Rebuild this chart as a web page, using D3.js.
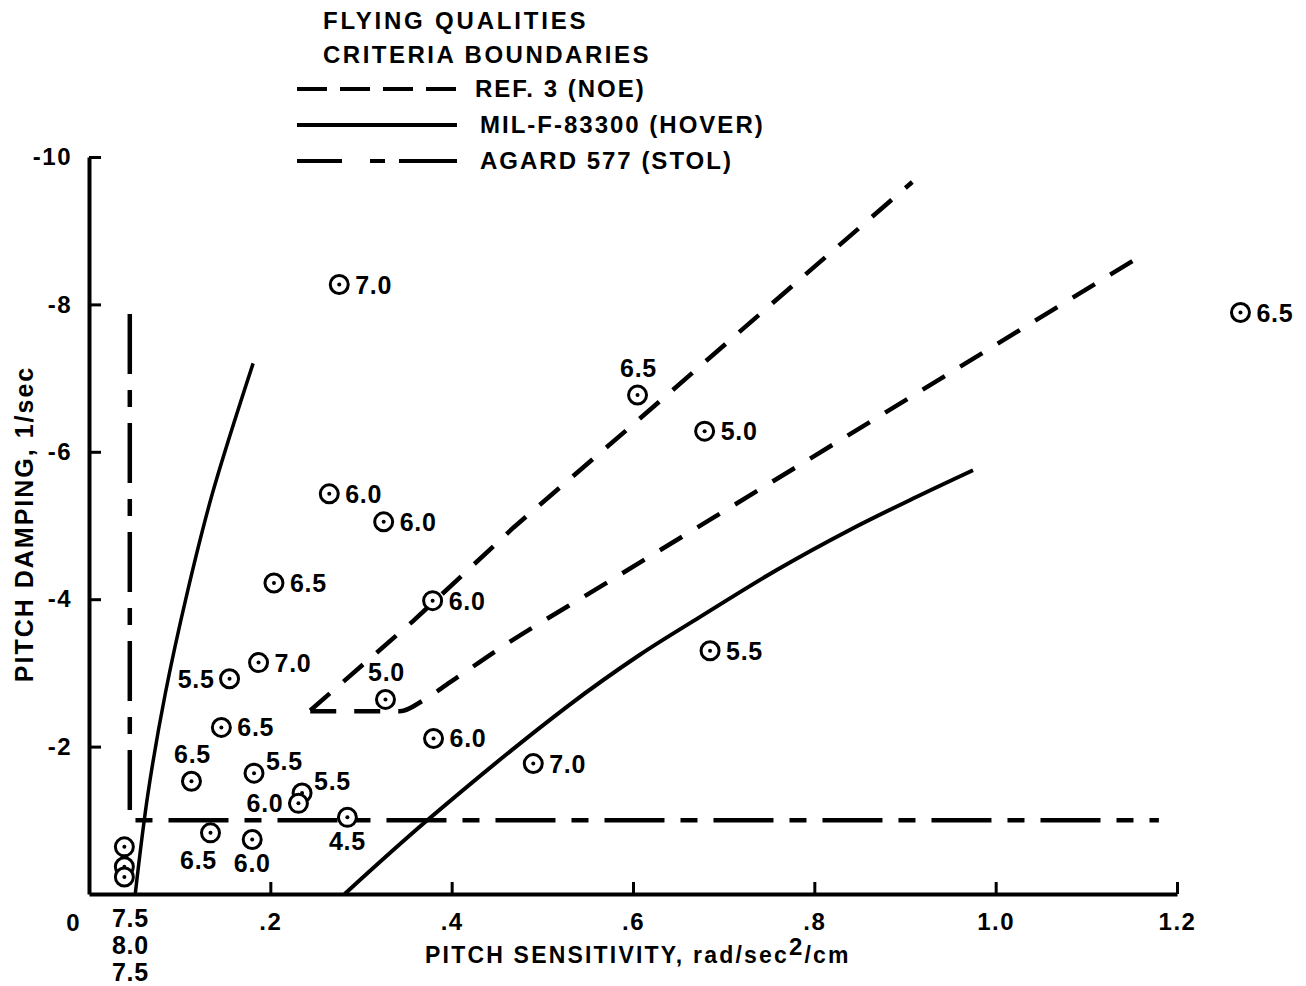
<!DOCTYPE html>
<html>
<head>
<meta charset="utf-8">
<script src="https://cdn.jsdelivr.net/npm/d3@7"></script>
<style>
  body { margin: 0; background: #fff; }
  text { font-family: "Liberation Sans", Arial, sans-serif; font-weight: bold; fill: #000; }
</style>
</head>
<body>
<div id="chart"></div>
<script>
// axis ticks
const xTicks = [0.2, 0.4, 0.6, 0.8, 1.0, 1.2];
const xTickLabels = [".2", ".4", ".6", ".8", "1.0", "1.2"];
const yTicks = [-10, -8, -6, -4, -2];
const yTickLabels = ["-10", "-8", "-6", "-4", "-2"];

// pilot rating points (sensitivity, damping, rating)
const pointX = [0.276, 0.605, 0.679, 0.265, 0.325, 0.204, 0.379, 0.685, 0.187, 0.155, 0.327, 0.146, 0.380,
                0.490, 0.113, 0.182, 0.235, 0.231, 0.285, 0.134, 0.180, 0.039, 0.039, 0.039, 1.27];
const pointY = [-8.27, -6.77, -6.28, -5.43, -5.05, -4.22, -3.98, -3.30, -3.14, -2.92, -2.64, -2.26, -2.11,
                -1.77, -1.53, -1.64, -1.37, -1.23, -1.04, -0.83, -0.74, -0.64, -0.37, -0.23, -7.89];
const pointRating = ["7.0", "6.5", "5.0", "6.0", "6.0", "6.5", "6.0", "5.5", "7.0", "5.5", "5.0", "6.5", "6.0",
                     "7.0", "6.5", "5.5", "5.5", "6.0", "4.5", "6.5", "6.0", "7.5", "8.0", "7.5", "6.5"];

// criteria boundaries
const ref3UpperX = [0.244, 0.358, 0.468, 0.600, 0.785, 0.908];
const ref3UpperY = [-2.49, -3.71, -4.97, -6.37, -8.35, -9.66];
const ref3LowerX = [0.244, 0.343, 0.369, 0.398, 0.454, 0.564, 0.785, 1.155];
const ref3LowerY = [-2.48, -2.48, -2.63, -2.87, -3.34, -4.17, -5.83, -8.62];
const milLeftX = [0.051, 0.065, 0.084, 0.108, 0.136, 0.181];
const milLeftY = [0, -1.36, -2.71, -4.07, -5.43, -7.20];
const milRightX = [0.282, 0.376, 0.527, 0.608, 0.674, 0.759, 0.839, 0.913, 0.975];
const milRightY = [0, -1.03, -2.54, -3.25, -3.76, -4.40, -4.94, -5.39, -5.75];
const agardX = [0.045, 0.045, 1.18];
const agardY = [-7.87, -1.0, -1.0];

const legendNames = ["REF. 3 (NOE)", "MIL-F-83300 (HOVER)", "AGARD 577 (STOL)"];

const width = 1306, height = 986;

const svg = d3.select("#chart").append("svg")
    .attr("width", width)
    .attr("height", height)
    .style("background", "#fff");

const x = d3.scaleLinear().domain([0, 1.2]).range([89, 1177]);
const y = d3.scaleLinear().domain([0, -10]).range([894, 157]);

// axes, ticks pointing inward
const xAxis = d3.axisBottom(x)
    .tickValues(xTicks)
    .tickFormat((d, i) => xTickLabels[i])
    .tickSizeInner(-12)
    .tickSizeOuter(0)
    .tickPadding(19);

const yAxis = d3.axisLeft(y)
    .tickValues(yTicks)
    .tickFormat((d, i) => yTickLabels[i])
    .tickSizeInner(-12)
    .tickSizeOuter(0)
    .tickPadding(17);

function styleAxis(g) {
    g.select(".domain").attr("stroke", "#000").attr("stroke-width", 4);
    g.selectAll(".tick line").attr("stroke", "#000").attr("stroke-width", 3);
    g.selectAll(".tick text")
        .attr("font-family", "Liberation Sans, Arial, sans-serif")
        .attr("font-weight", "bold")
        .attr("font-size", 24)
        .attr("letter-spacing", 1.5)
        .attr("fill", "#000");
}

svg.append("g")
    .attr("transform", `translate(0, ${y(0)})`)
    .call(xAxis)
    .call(styleAxis);

svg.append("g")
    .attr("transform", `translate(${x(0)}, 0)`)
    .call(yAxis)
    .call(styleAxis);

svg.append("text")
    .attr("x", 73)
    .attr("y", 931)
    .attr("text-anchor", "middle")
    .attr("font-size", 24)
    .text("0");

// axis titles
const xTitle = svg.append("text")
    .attr("x", 425)
    .attr("y", 963)
    .attr("font-size", 23)
    .attr("letter-spacing", 2.2);
xTitle.append("tspan").text("PITCH SENSITIVITY, rad/sec");
xTitle.append("tspan").attr("dy", -8).attr("font-size", 24).text("2");
xTitle.append("tspan").attr("dy", 8).text("/cm");

svg.append("text")
    .attr("transform", "translate(33, 524) rotate(-90)")
    .attr("text-anchor", "middle")
    .attr("font-size", 25)
    .attr("letter-spacing", 2)
    .text("PITCH DAMPING, 1/sec");

// boundary lines
const ref3Dash = "26,18";
const agardDash = "60,16,17,16";

const zipPts = (xs, ys) => xs.map((v, i) => [v, ys[i]]);

const line = d3.line().x(d => x(d[0])).y(d => y(d[1]));
const monotone = d3.line().x(d => x(d[0])).y(d => y(d[1])).curve(d3.curveMonotoneX);
const smooth = d3.line().x(d => x(d[0])).y(d => y(d[1])).curve(d3.curveCatmullRom.alpha(0.5));

const lines = svg.append("g").attr("fill", "none").attr("stroke", "#000");

lines.append("path")
    .attr("d", line(zipPts(ref3UpperX, ref3UpperY)))
    .attr("stroke-width", 4.5)
    .attr("stroke-dasharray", ref3Dash);

lines.append("path")
    .attr("d", monotone(zipPts(ref3LowerX, ref3LowerY)))
    .attr("stroke-width", 4.5)
    .attr("stroke-dasharray", ref3Dash);

lines.append("path")
    .attr("d", smooth(zipPts(milLeftX, milLeftY)))
    .attr("stroke-width", 3.5);

lines.append("path")
    .attr("d", smooth(zipPts(milRightX, milRightY)))
    .attr("stroke-width", 4);

lines.append("path")
    .attr("d", line(zipPts(agardX, agardY)))
    .attr("stroke-width", 4.5)
    .attr("stroke-dasharray", agardDash);

// points
const labelSide = ["right", "above", "right", "right", "right", "right", "right", "right", "right", "left",
                   "above", "right", "right", "right", "above", "upright", "upright", "left", "below",
                   "belowleft", "below", "stack", "stack", "stack", "right"];

const points = pointX.map((v, i) => ({ x: v, y: pointY[i], r: pointRating[i], side: labelSide[i] }));

const pg = svg.append("g").selectAll("g")
    .data(points)
    .enter()
    .append("g")
    .attr("transform", d => `translate(${x(d.x)}, ${y(d.y)})`);

pg.append("circle")
    .attr("r", 9)
    .attr("fill", "#fff")
    .attr("stroke", "#000")
    .attr("stroke-width", 3);

pg.append("circle")
    .attr("r", 2)
    .attr("fill", "#000");

let stackIdx = 0;
pg.append("text")
    .attr("font-size", 25)
    .attr("letter-spacing", 0.7)
    .each(function(d) {
        const t = d3.select(this);
        if (d.side === "right") {
            t.attr("x", 16).attr("dy", "0.36em").attr("text-anchor", "start");
        } else if (d.side === "left") {
            t.attr("x", -15).attr("dy", "0.36em").attr("text-anchor", "end");
        } else if (d.side === "above") {
            t.attr("x", 1).attr("y", -18).attr("text-anchor", "middle");
        } else if (d.side === "upright") {
            t.attr("x", 12).attr("y", -3).attr("text-anchor", "start");
        } else if (d.side === "below") {
            t.attr("x", 0).attr("y", 33).attr("text-anchor", "middle");
        } else if (d.side === "belowleft") {
            t.attr("x", -12).attr("y", 36).attr("text-anchor", "middle");
        } else {
            // ratings for the clustered points are stacked below the axis
            t.attr("x", 6)
                .attr("y", y(0) - y(d.y) + 33 + stackIdx * 27)
                .attr("text-anchor", "middle");
            stackIdx++;
        }
    })
    .text(d => d.r);

// legend
const legend = svg.append("g");
legend.append("text")
    .attr("x", 323).attr("y", 29)
    .attr("font-size", 24)
    .attr("letter-spacing", 2.8)
    .text("FLYING QUALITIES");
legend.append("text")
    .attr("x", 323).attr("y", 63)
    .attr("font-size", 24)
    .attr("letter-spacing", 2.5)
    .text("CRITERIA BOUNDARIES");

const legendDash = ["30,13", null, "45,28,15,14,60"];
const legendY = [89, 125, 161];

legendNames.forEach((name, i) => {
    legend.append("line")
        .attr("x1", 297).attr("x2", 457)
        .attr("y1", legendY[i]).attr("y2", legendY[i])
        .attr("stroke", "#000")
        .attr("stroke-width", 4)
        .attr("stroke-dasharray", legendDash[i]);
    legend.append("text")
        .attr("x", i === 0 ? 475 : 480)
        .attr("y", legendY[i] + 8)
        .attr("font-size", 24)
        .attr("letter-spacing", 2)
        .text(name);
});
</script>
</body>
</html>
